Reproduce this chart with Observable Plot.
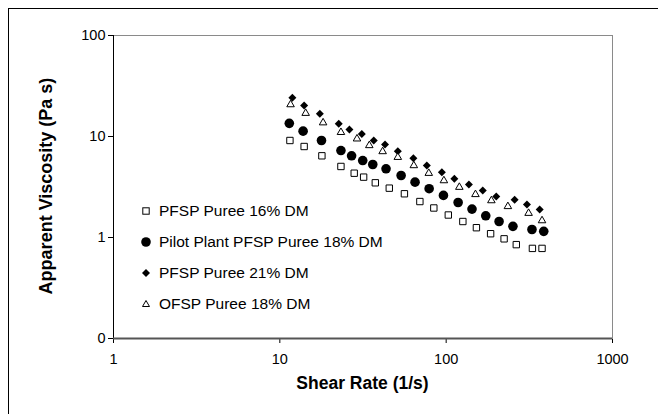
<!DOCTYPE html>
<html><head><meta charset="utf-8">
<script src="https://cdn.jsdelivr.net/npm/d3@7"></script>
<script src="https://cdn.jsdelivr.net/npm/@observablehq/plot@0.6"></script>
<style>
html,body{margin:0;padding:0;background:#fff;}
#wrap{position:relative;width:658px;height:414px;overflow:hidden;font-family:"Liberation Sans",Arial,sans-serif;background:#fff;}
#border{position:absolute;left:8px;top:8px;width:700px;height:500px;border:1px solid #000;box-sizing:border-box;}
#chart{position:absolute;left:0;top:0;}
.lg{position:absolute;left:139px;height:20px;line-height:20px;font-size:15.5px;color:#000;white-space:nowrap;}
.lg svg{position:absolute;left:0;top:0;}
.lg span{position:absolute;left:20px;top:0;}
</style>
</head><body>
<div id="wrap"><div id="border"></div><div id="chart"></div><div id="legend"></div></div>
<script>
// ---- data ----
const seriesNames = ["PFSP Puree 16% DM", "Pilot Plant PFSP Puree 18% DM", "PFSP Puree 21% DM", "OFSP Puree 18% DM"];
const xTicks = [1, 10, 100, 1000];
const yTicks = [0.1, 1, 10, 100];

const pfsp16Shear = [11.5, 14.0, 17.9, 23.3, 28.0, 31.9, 37.5, 45.5, 56.1, 69.5, 84.3, 103, 126, 152, 185, 223, 264, 330, 377];
const pfsp16Visc  = [9.13, 7.96, 6.44, 5.05, 4.33, 3.96, 3.48, 3.08, 2.71, 2.27, 1.96, 1.67, 1.44, 1.25, 1.09, 0.97, 0.85, 0.78, 0.78];

const pilot18Shear = [11.4, 13.8, 17.8, 23.3, 27.0, 31.5, 36.2, 43.5, 53.6, 65.0, 79.0, 96.3, 118, 143, 173, 208, 252, 328, 386];
const pilot18Visc  = [13.5, 11.3, 9.13, 7.26, 6.44, 5.78, 5.28, 4.79, 4.11, 3.53, 3.04, 2.61, 2.22, 1.91, 1.64, 1.44, 1.29, 1.20, 1.15];

const pfsp21Shear = [11.9, 14.0, 17.4, 22.6, 26.2, 31.1, 36.7, 42.9, 51.2, 63.5, 76.5, 94.2, 112, 137, 166, 200, 258, 306, 365];
const pfsp21Visc  = [24.2, 20.3, 16.8, 13.4, 11.7, 10.6, 9.13, 8.33, 7.15, 6.10, 5.16, 4.43, 3.81, 3.35, 2.92, 2.55, 2.36, 2.12, 1.89];

const ofsp18Shear = [11.6, 14.3, 18.2, 23.3, 29.1, 34.5, 41.5, 51.2, 63.9, 78.6, 96.9, 120, 150, 187, 235, 313, 377];
const ofsp18Visc  = [20.7, 17.0, 13.7, 11.0, 9.49, 8.15, 7.10, 6.23, 5.16, 4.33, 3.66, 3.15, 2.67, 2.32, 2.03, 1.74, 1.47];

const rows = (xs, ys) => xs.map((x, i) => ({x, y: ys[i]}));
const s16 = rows(pfsp16Shear, pfsp16Visc);
const s18p = rows(pilot18Shear, pilot18Visc);
const s21 = rows(pfsp21Shear, pfsp21Visc);
const s18o = rows(ofsp18Shear, ofsp18Visc);

const FONT = '"Liberation Sans", Arial, sans-serif';

const plot = Plot.plot({
  width: 658, height: 414,
  marginLeft: 113, marginRight: 46, marginTop: 35, marginBottom: 76,
  style: {fontFamily: FONT, fontSize: "14.5px", color: "#000", background: "transparent", overflow: "visible"},
  x: {type: "log", domain: [1, 1000], ticks: xTicks, tickFormat: d => String(d), label: null, tickSize: 5, tickPadding: 10},
  y: {type: "log", domain: [0.1, 100], ticks: yTicks, tickFormat: d => d < 1 ? "0" : String(d), label: null, tickSize: 5, tickPadding: 3},
  marks: [
    Plot.frame({stroke: "#8a8a8a"}),
    Plot.ruleX([1], {stroke: "#000"}),
    Plot.ruleY([0.1], {stroke: "#555", strokeWidth: 2}),
    Plot.dot(s16, {x: "x", y: "y", symbol: "square", r: 3.6, stroke: "#000", strokeWidth: 1, fill: "#fff"}),
    Plot.dot(s18p, {x: "x", y: "y", symbol: "circle", r: 4.8, fill: "#000", stroke: "none"}),
    Plot.dot(s21, {x: "x", y: "y", symbol: "diamond2", r: 3.6, fill: "#000", stroke: "none"}),
    Plot.dot(s18o, {x: "x", y: "y", symbol: "triangle", r: 2.8, stroke: "#000", strokeWidth: 1, fill: "#fff"})
  ]
});
document.getElementById("chart").appendChild(plot);

const svg = d3.select(plot);
svg.append("text")
  .attr("x", 362.5).attr("y", 384)
  .attr("text-anchor", "middle").attr("dominant-baseline", "middle")
  .attr("font-family", FONT).attr("font-weight", "bold").attr("font-size", 17.5)
  .attr("fill", "#000")
  .text("Shear Rate (1/s)");
svg.append("text")
  .attr("transform", "translate(47,186) rotate(-90)")
  .attr("text-anchor", "middle").attr("dominant-baseline", "middle")
  .attr("font-family", FONT).attr("font-weight", "bold").attr("font-size", 18)
  .attr("fill", "#000")
  .text("Apparent Viscosity (Pa s)");

// legend
const legendY = [211, 242, 273, 304];
const symbols = [
  '<rect x="3.8" y="6.8" width="6.4" height="6.4" fill="#fff" stroke="#000" stroke-width="1"/>',
  '<circle cx="7" cy="10" r="4.8" fill="#000"/>',
  '<path d="M7,6 L11,10 L7,14 L3,10 Z" fill="#000"/>',
  '<path d="M7,6.5 L10.5,12.5 L3.5,12.5 Z" fill="#fff" stroke="#000" stroke-width="1"/>'
];
const legend = document.getElementById("legend");
seriesNames.forEach((name, i) => {
  const d = document.createElement("div");
  d.className = "lg";
  d.style.top = (legendY[i] - 10) + "px";
  d.innerHTML = `<svg width="14" height="20">${symbols[i]}</svg><span>${name}</span>`;
  legend.appendChild(d);
});
</script>
</body></html>
